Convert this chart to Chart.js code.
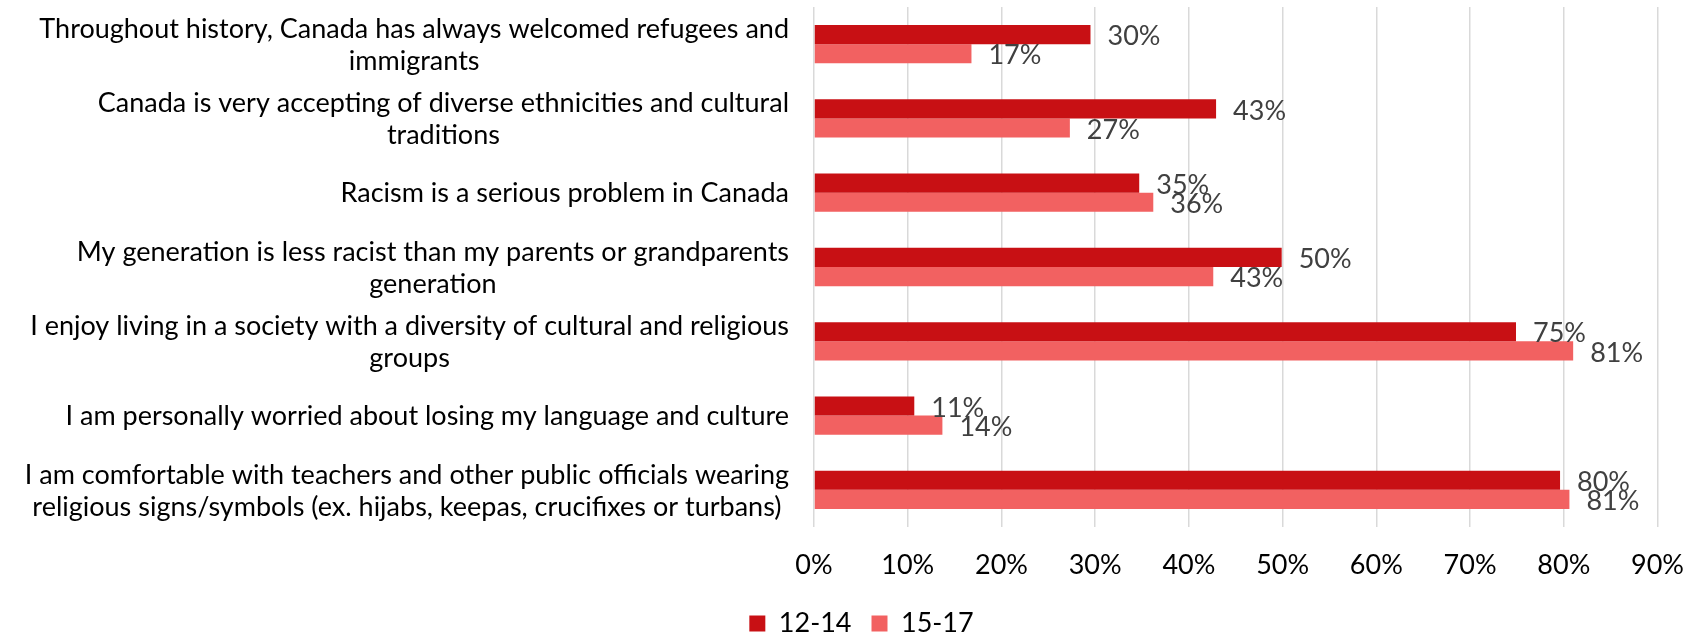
<!DOCTYPE html>
<html>
<head>
<meta charset="utf-8">
<script src="https://cdn.jsdelivr.net/npm/chart.js@4.4.0/dist/chart.umd.min.js"></script>
<style>
  html, body { margin: 0; padding: 0; background: #fff; }
</style>
</head>
<body>
<canvas id="surveyChart" width="1706" height="632"></canvas>
<script>
// Statements, each split into the lines it is wrapped on
const categories = [
    ['Throughout history, Canada has always welcomed refugees and', 'immigrants'],
    ['Canada is very accepting of diverse ethnicities and cultural', 'traditions'],
    ['Racism is a serious problem in Canada'],
    ['My generation is less racist than my parents or grandparents', 'generation'],
    ['I enjoy living in a society with a diversity of cultural and religious', 'groups'],
    ['I am personally worried about losing my language and culture'],
    ['I am comfortable with teachers and other public officials wearing', 'religious signs/symbols (ex. hijabs, keepas, crucifixes or turbans)']
];

const seriesNames = ['12-14', '15-17'];

// Share agreeing (%), per age group
const agree12to14 = [29.5, 42.9, 34.7, 49.9, 74.9, 10.7, 79.6];
const agree15to17 = [16.8, 27.3, 36.2, 42.6, 81.0, 13.7, 80.6];

const xTicks = [0, 10, 20, 30, 40, 50, 60, 70, 80, 90];

const colors = {
    dark: '#C81014',
    light: '#F26161',
    grid: '#D9D9D9',
    text: '#000000',
    valueText: '#404040'
};

const FONT = 'Lato, "Open Sans", sans-serif';
const FONT_SIZE = 27;

Chart.defaults.font.family = FONT;
Chart.defaults.font.size = FONT_SIZE;
Chart.defaults.color = colors.text;

// Category labels: block right-aligned against the axis, lines centred within it
const categoryLabels = {
    id: 'categoryLabels',
    afterDraw(chart) {
        const ctx = chart.ctx;
        const yScale = chart.scales.y;
        const right = 789;
        const lineGap = 32;
        ctx.save();
        ctx.font = FONT_SIZE + 'px ' + FONT;
        ctx.fillStyle = colors.text;
        ctx.textAlign = 'center';
        ctx.textBaseline = 'middle';
        categories.forEach((lines, i) => {
            const cy = yScale.getPixelForTick(i) + 1;
            const widest = Math.max(...lines.map(l => ctx.measureText(l).width));
            const cx = right - widest / 2;
            const top = cy - (lines.length - 1) * lineGap / 2;
            lines.forEach((line, j) => {
                ctx.fillText(line, cx, top + j * lineGap);
            });
        });
        ctx.restore();
    }
};

// Rounded percentage written just past the end of each bar
const valueLabels = {
    id: 'valueLabels',
    afterDatasetsDraw(chart) {
        const ctx = chart.ctx;
        ctx.save();
        ctx.font = FONT_SIZE + 'px ' + FONT;
        ctx.fillStyle = colors.valueText;
        ctx.textAlign = 'left';
        ctx.textBaseline = 'middle';
        chart.data.datasets.forEach((ds, d) => {
            chart.getDatasetMeta(d).data.forEach((bar, i) => {
                ctx.fillText(Math.round(ds.data[i]) + '%', bar.x + 17, bar.y + 2);
            });
        });
        ctx.restore();
    }
};

const ctx = document.getElementById('surveyChart');

new Chart(ctx, {
    type: 'bar',
    data: {
        labels: categories.map(c => c.join(' ')),
        datasets: [{
            label: seriesNames[0],
            data: agree12to14,
            backgroundColor: colors.dark,
            barPercentage: 1,
            categoryPercentage: 0.515
        }, {
            label: seriesNames[1],
            data: agree15to17,
            backgroundColor: colors.light,
            barPercentage: 1,
            categoryPercentage: 0.515
        }]
    },
    options: {
        indexAxis: 'y',
        responsive: false,
        animation: false,
        devicePixelRatio: 1,
        layout: {
            // left padding pushes the centred legend under the plot
            padding: { top: 7, right: 47, bottom: 0, left: 64 }
        },
        scales: {
            x: {
                min: xTicks[0],
                max: xTicks[xTicks.length - 1],
                afterBuildTicks: scale => {
                    scale.ticks = xTicks.map(v => ({ value: v }));
                },
                ticks: {
                    padding: 22,
                    color: colors.text,
                    callback: value => value + '%'
                },
                grid: {
                    color: colors.grid,
                    lineWidth: 1.5,
                    drawTicks: false
                },
                border: { display: false },
                afterFit: scale => { scale.height = 63; }
            },
            y: {
                ticks: { display: false },
                grid: { display: false },
                border: { display: false },
                afterFit: scale => { scale.width = 750; }
            }
        },
        plugins: {
            legend: {
                position: 'bottom',
                maxHeight: 42,
                labels: {
                    boxWidth: 16,
                    boxHeight: 16,
                    padding: 20,
                    color: colors.text,
                    font: { size: FONT_SIZE }
                }
            },
            tooltip: { enabled: false }
        }
    },
    plugins: [categoryLabels, valueLabels]
});
</script>
</body>
</html>
